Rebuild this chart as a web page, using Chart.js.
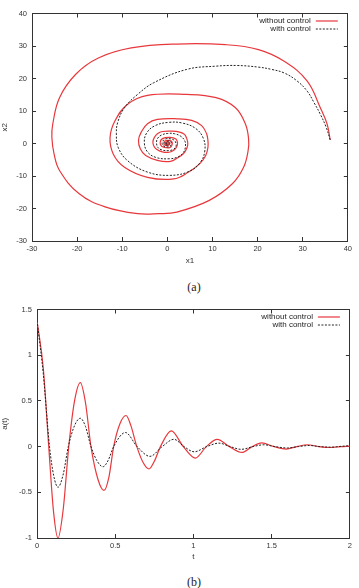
<!DOCTYPE html>
<html>
<head>
<meta charset="utf-8">
<script src="https://cdn.jsdelivr.net/npm/chart.js@4.4.1/dist/chart.umd.min.js"></script>
<style>
  body { margin: 0; background: #fff; width: 359px; height: 588px; position: relative; overflow: hidden; }
  canvas { position: absolute; left: 0; }
  .cap { position: absolute; font-family: "Liberation Serif", serif; font-size: 12px; color: #222; transform: translate(-50%, -50%); }
</style>
</head>
<body>
<canvas id="phaseChart" width="359" height="270" style="top:0"></canvas>
<div class="cap" style="left:194px;top:287px">(a)</div>
<canvas id="timeChart" width="359" height="270" style="top:296px"></canvas>
<div class="cap" style="left:194px;top:582px">(b)</div>
<script>
// --- (a) phase plane: x1 / x2, one line of values per turn of the spiral
const freeX1 = [36.1, 35.4, 33.9, 31.0, 25.9, 20.2, 12.9, 2.1, -8.0, -15.3,
  -20.3, -23.9, -25.4, -25.6, -25.1, -23.9, -19.6, -13.8, -6.6, -1.9,
  2.1, 9.3, 14.4, 16.9, 17.9, 18.0, 17.3, 15.1, 10.8, 4.3,
  -4.4, -8.8, -11.6, -12.7, -12.0, -9.5, -4.4, 1.4,
  4.7, 7.2, 8.5, 9.0, 9.0, 8.7, 7.6, 5.4, 2.2, -2.2, -4.4, -5.8, -6.4, -6.0, -4.8, -2.2, 0.7,
  2.3, 3.6, 4.2, 4.5, 4.5, 4.3, 3.8, 2.7, 1.1, -1.1, -2.2, -2.9, -3.2, -3.0, -2.4, -1.1, 0.4,
  1.5, 2.1, 2.25, 1.9, 0.55, -1.1, -1.6, -1.2, 0.2,
  0.8, 1.1, 0.9, 0.3, -0.55, -0.8, -0.6, 0.1,
  0.5, 0.5, -0.2, -0.4, -0.25, 0.1, 0.2, 0.0, -0.1, 0.0];
const freeX2 = [1.1, 6.0, 11.0, 19.2, 25.3, 28.9, 30.4, 30.6, 29.4, 26.3,
  21.3, 14.1, 6.0, 1.9, -3.3, -8.3, -15.4, -19.5, -21.6, -21.6,
  -21.1, -17.5, -12.4, -7.3, -2.2, 1.5, 6.0, 11.0, 14.1, 15.1,
  14.8, 12.1, 7.0, 1.9, -3.2, -7.3, -10.4, -10.9,
  -8.8, -6.2, -3.7, -1.1, 0.8, 3.0, 5.5, 7.1, 7.6, 7.4, 6.1, 3.5, 1.0, -1.6, -3.7, -5.2, -5.5,
  -4.4, -3.1, -1.8, -0.6, 0.4, 1.5, 2.8, 3.5, 3.8, 3.7, 3.0, 1.8, 0.5, -0.8, -1.8, -2.6, -2.7,
  -2.0, -0.9, 0.2, 1.4, 1.9, 1.5, 0.25, -0.9, -1.35,
  -1.0, -0.1, 0.7, 0.95, 0.75, 0.1, -0.45, -0.65,
  -0.25, 0.3, 0.45, 0.05, -0.25, -0.3, 0.0, 0.15, 0.0, 0.0];
const ctrlX1 = [36.1, 35.2, 33.9, 32.5, 31.0, 28.7, 25.9, 23.1, 20.2, 15.5, 10.8, 4.3, -3.0, -6.6, -9.5, -11.0, -11.3, -10.9, -8.8, -4.4, 0.6,
  4.8, 7.3, 8.3, 8.0, 6.3, 3.3, 0.3, -2.7, -4.6, -5.1, -4.4, -2.5, 0.4,
  2.4, 3.6, 4.0, 3.9, 3.0, 1.6, 0.1, -1.3, -2.2, -2.4, -2.1, -1.2, 0.2,
  1.2, 1.8, 1.95, 1.6, 0.8, -0.1, -0.8, -1.15, -1.0, -0.4, 0.2,
  0.8, 0.95, 0.6, -0.1, -0.55, -0.5, -0.05, 0.35, 0.4, 0.1, -0.2, -0.2, 0.0, 0.0];
const ctrlX2 = [1.1, 5.0, 9.0, 12.6, 16.1, 19.3, 21.7, 22.8, 23.5, 24.0, 23.8, 22.8, 18.7, 15.1, 11.0, 6.5, 3.0, -1.2, -5.3, -8.8, -9.8,
  -8.6, -5.8, -2.3, 1.5, 4.6, 6.3, 6.5, 5.5, 3.2, 0.2, -2.6, -4.3, -4.7,
  -4.1, -2.7, -1.0, 0.7, 2.2, 3.0, 3.1, 2.6, 1.5, 0.1, -1.2, -2.0, -2.2,
  -1.9, -1.2, -0.2, 0.9, 1.4, 1.5, 1.1, 0.3, -0.6, -1.0, -1.05,
  -0.6, 0.1, 0.65, 0.7, 0.3, -0.3, -0.5, -0.3, 0.1, 0.3, 0.15, -0.1, -0.15, 0.0];

// --- (b) a(t) against t
const freeT = [0, 0.04, 0.075, 0.105, 0.134, 0.168, 0.203, 0.24, 0.277, 0.31, 0.345, 0.39, 0.428, 0.46, 0.49, 0.53, 0.569, 0.6, 0.638, 0.68, 0.716, 0.75, 0.789, 0.858, 0.935, 1.012, 1.082, 1.152, 1.23, 1.31, 1.375, 1.436, 1.515, 1.593, 1.66, 1.73, 1.8, 1.875, 1.94, 2.0];
const freeA = [1.38, 0.86, 0, -0.7, -1.0, -0.68, 0, 0.5, 0.7, 0.48, 0, -0.36, -0.48, -0.33, 0, 0.25, 0.34, 0.23, 0, -0.18, -0.245, -0.16, 0, 0.172, 0, -0.125, 0, 0.08, 0, -0.064, 0, 0.04, 0, -0.027, 0, 0.02, 0, -0.01, 0, 0.005];
const ctrlT = [0, 0.04, 0.08, 0.107, 0.134, 0.168, 0.2, 0.24, 0.277, 0.31, 0.345, 0.385, 0.422, 0.455, 0.49, 0.565, 0.64, 0.722, 0.8, 0.875, 0.94, 1.005, 1.085, 1.163, 1.235, 1.305, 1.38, 1.45, 1.52, 1.6, 1.67, 1.74, 1.81, 1.88, 1.95, 2.0];
const ctrlA = [1.38, 0.8, 0, -0.32, -0.445, -0.3, 0, 0.23, 0.31, 0.22, 0, -0.16, -0.22, -0.15, 0, 0.154, 0, -0.107, 0, 0.08, 0, -0.057, 0, 0.038, 0, -0.03, 0, 0.02, 0, -0.015, 0, 0.012, 0, -0.006, 0.004, 0.01];

const seriesLabels = ['without control', 'with control'];

const FONT = '"Liberation Sans", Arial, sans-serif';
const RED = '#e8383c';
const DARK = '#222';

const pairs = (xs, ys) => xs.map((x, i) => ({ x: x, y: ys[i] }));

// legend drawn gnuplot-style: text on the left, line sample on the right
const gnuLegend = {
  id: 'gnuLegend',
  afterDatasetsDraw(chart) {
    const { ctx, chartArea } = chart;
    ctx.save();
    ctx.font = '8px ' + FONT;
    ctx.textAlign = 'right';
    ctx.textBaseline = 'middle';
    chart.data.datasets.forEach((ds, i) => {
      const y = chartArea.top + 7 + i * 8;
      ctx.fillStyle = DARK;
      ctx.setLineDash([]);
      ctx.fillText(ds.label, chartArea.right - 37, y);
      ctx.strokeStyle = ds.borderColor;
      ctx.lineWidth = ds.borderWidth;
      ctx.setLineDash(ds.borderDash || []);
      ctx.beginPath();
      ctx.moveTo(chartArea.right - 32, y + 0.5);
      ctx.lineTo(chartArea.right - 10, y + 0.5);
      ctx.stroke();
    });
    ctx.restore();
  }
};

function makeScales(o) {
  const tickFont = { family: FONT, size: 7.5 };
  const grid = { drawOnChartArea: false, drawTicks: true, tickLength: -4, color: '#333', lineWidth: 1 };
  const border = { display: true, color: '#333', width: 1 };
  const fmt = v => String(v);
  return {
    x: {
      type: 'linear', position: 'bottom', min: o.xMin, max: o.xMax,
      ticks: { stepSize: o.xStep, font: tickFont, color: '#333', padding: 7, maxRotation: 0, autoSkip: false, callback: fmt },
      grid, border,
      title: { display: true, text: o.xTitle, font: { family: FONT, size: 8 }, color: '#333', padding: { top: 0, bottom: 4 } },
      afterFit: s => { s.height = o.bottom; }
    },
    xTop: {
      type: 'linear', position: 'top', min: o.xMin, max: o.xMax,
      ticks: { stepSize: o.xStep, display: false },
      grid, border,
      afterFit: s => { s.height = 12; }
    },
    y: {
      type: 'linear', position: 'left', min: o.yMin, max: o.yMax,
      ticks: { stepSize: o.yStep, font: tickFont, color: '#333', padding: 9, autoSkip: false, callback: fmt },
      grid, border,
      title: { display: true, text: o.yTitle, font: { family: FONT, size: 8 }, color: '#333', padding: { top: 0, bottom: 0 } },
      afterFit: s => { s.width = o.left; }
    },
    yRight: {
      type: 'linear', position: 'right', min: o.yMin, max: o.yMax,
      ticks: { stepSize: o.yStep, display: false },
      grid, border,
      afterFit: s => { s.width = 4; }
    }
  };
}

function baseOptions(scales) {
  return {
    responsive: false,
    animation: false,
    devicePixelRatio: 1,
    layout: { padding: 0 },
    plugins: { legend: { display: false }, tooltip: { enabled: false } },
    elements: { point: { radius: 0 } },
    scales: scales
  };
}

new Chart(document.getElementById('phaseChart'), {
  type: 'scatter',
  data: {
    datasets: [
      { label: seriesLabels[0], data: pairs(freeX1, freeX2), showLine: true, borderColor: RED, borderWidth: 1.2, tension: 0.4, order: 1 },
      { label: seriesLabels[1], data: pairs(ctrlX1, ctrlX2), showLine: true, borderColor: DARK, borderWidth: 1, borderDash: [2, 1.5], tension: 0.4, order: 0 }
    ]
  },
  options: baseOptions(makeScales({ xMin: -30, xMax: 40, xStep: 10, yMin: -30, yMax: 40, yStep: 10, xTitle: 'x1', yTitle: 'x2', left: 32, bottom: 29 })),
  plugins: [gnuLegend]
});

new Chart(document.getElementById('timeChart'), {
  type: 'scatter',
  data: {
    datasets: [
      { label: seriesLabels[0], data: pairs(freeT, freeA), showLine: true, borderColor: RED, borderWidth: 1.2, cubicInterpolationMode: 'monotone', order: 1 },
      { label: seriesLabels[1], data: pairs(ctrlT, ctrlA), showLine: true, borderColor: DARK, borderWidth: 1, borderDash: [2, 1.5], cubicInterpolationMode: 'monotone', order: 0 }
    ]
  },
  options: baseOptions(makeScales({ xMin: 0, xMax: 2, xStep: 0.5, yMin: -1, yMax: 1.5, yStep: 0.5, xTitle: 't', yTitle: 'a(t)', left: 37, bottom: 28 })),
  plugins: [gnuLegend]
});
</script>
</body>
</html>
